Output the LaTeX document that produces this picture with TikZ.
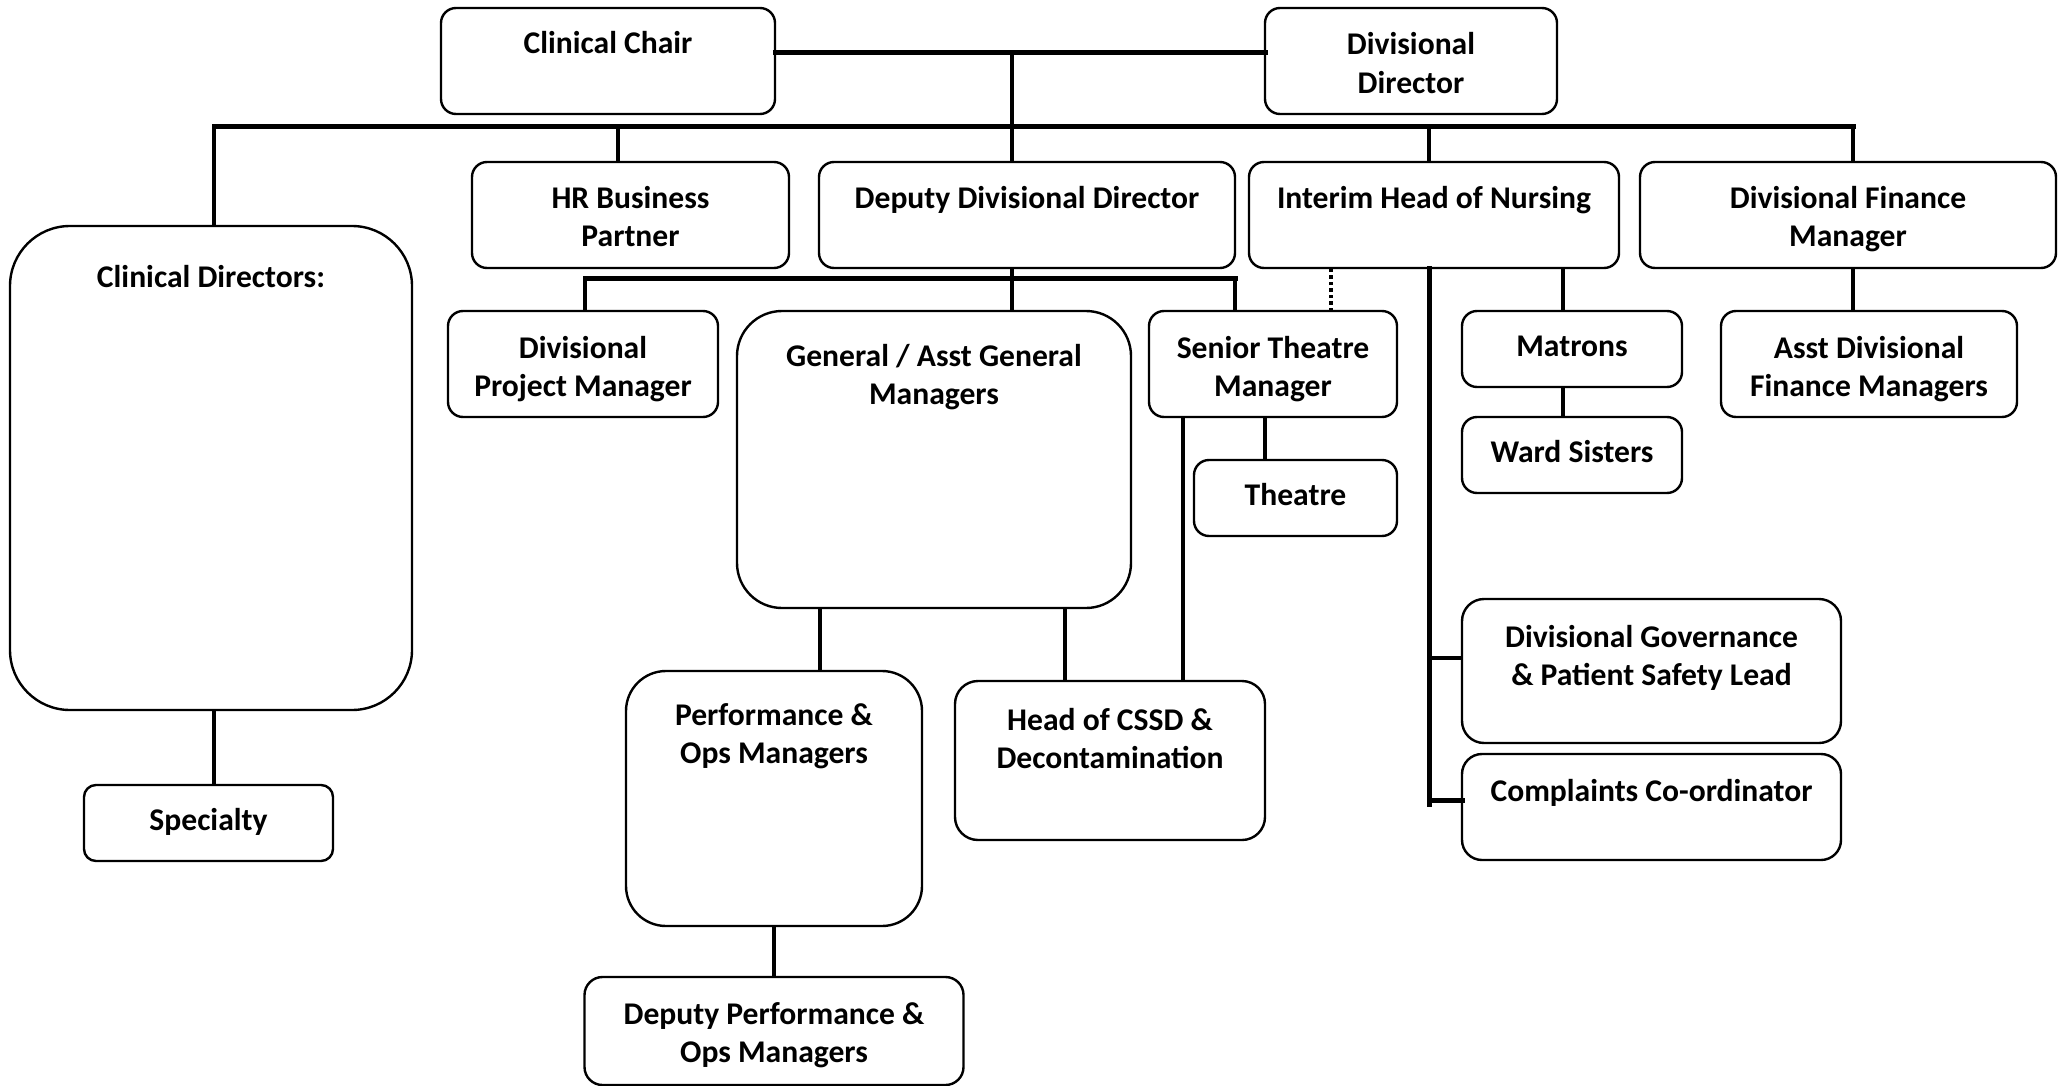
\documentclass[tikz,border=0pt]{standalone}
\usepackage{fontspec}
\setmainfont{Carlito}
\usetikzlibrary{positioning,calc}

\tikzset{
  unit/.style={draw, line width=2.4pt, rounded corners=15pt, inner sep=0pt, outer sep=0pt},
  txt/.style={align=center, inner sep=0pt, font=\bfseries\fontsize{31.6pt}{38.6pt}\selectfont},
  link/.style={line width=3.2pt},
  bus/.style={line width=5pt, line cap=rect},
  dotlink/.style={line width=3.4pt, dash pattern=on 3.5pt off 3pt}
}

\begin{document}
\begin{tikzpicture}[x=1pt, y=1pt]
  \useasboundingbox (0,0) rectangle (2066,-1086);

  % boxes
  \node[unit, minimum width=334pt, minimum height=106pt] (cc) at (608,-61) {};
  \node[unit, minimum width=292pt, minimum height=106pt] (dd) at (1411,-61) {};
  \node[unit, rounded corners=60pt, minimum width=402pt, minimum height=484pt] (cd) at (211,-468) {};
  \node[unit, rounded corners=12pt, minimum width=249pt, minimum height=76pt] (spec) at (208.5,-823) {};
  \node[unit, minimum width=317pt, minimum height=106pt] (hr) at (630.5,-215) {};
  \node[unit, minimum width=416pt, minimum height=106pt] (ddd) at (1027,-215) {};
  \node[unit, minimum width=370pt, minimum height=106pt] (ihn) at (1434,-215) {};
  \node[unit, minimum width=416pt, minimum height=106pt] (dfm) at (1848,-215) {};
  \node[unit, minimum width=270pt, minimum height=106pt] (dpm) at (583,-364) {};
  \node[unit, rounded corners=45pt, minimum width=394pt, minimum height=297pt] (gm) at (934,-459.5) {};
  \node[unit, minimum width=248pt, minimum height=106pt] (stm) at (1273,-364) {};
  \node[unit, minimum width=203pt, minimum height=76pt] (th) at (1295.5,-498) {};
  \node[unit, minimum width=220pt, minimum height=76pt] (mat) at (1572,-349) {};
  \node[unit, minimum width=220pt, minimum height=76pt, below=30pt of mat] (ws) {};
  \node[unit, minimum width=296pt, minimum height=106pt] (adfm) at (1869,-364) {};
  \node[unit, rounded corners=40pt, minimum width=296pt, minimum height=255pt] (pom) at (774,-798.5) {};
  \node[unit, rounded corners=18pt, minimum width=379pt, minimum height=108pt, below=51pt of pom] (dpom) {};
  \node[unit, rounded corners=23pt, minimum width=310pt, minimum height=159pt] (cssd) at (1110,-760.5) {};
  \node[unit, rounded corners=22pt, minimum width=379pt, minimum height=144pt] (dg) at (1651.5,-671) {};
  \node[unit, rounded corners=20pt, minimum width=379pt, minimum height=106pt, below=11pt of dg] (comp) {};

  % texts (base = last line)
  \node[txt, anchor=base] (cc-t) at ($(cc.north)+(0,-46)$) {Clinical Chair};
  \node[txt, anchor=base] (dd-t) at ($(dd.north)+(0,-85.6)$) {Divisional\\Director};
  \node[txt, anchor=base] (cd-t) at ($(cd.north)+(0,-61)$) {Clinical Directors:};
  \node[txt, anchor=base] (spec-t) at ($(spec.north)+(0,-45)$) {Specialty};
  \node[txt, anchor=base] (hr-t) at ($(hr.north)+(0,-84.6)$) {HR Business\\Partner};
  \node[txt, anchor=base] (ddd-t) at ($(ddd.north)+(0,-46)$) {Deputy Divisional Director};
  \node[txt, anchor=base] (ihn-t) at ($(ihn.north)+(0,-46)$) {Interim Head of Nursing};
  \node[txt, anchor=base] (dfm-t) at ($(dfm.north)+(0,-84.6)$) {Divisional Finance\\Manager};
  \node[txt, anchor=base] (dpm-t) at ($(dpm.north)+(0,-85.6)$) {Divisional\\Project Manager};
  \node[txt, anchor=base] (gm-t) at ($(gm.north)+(0,-93.6)$) {General / Asst General\\Managers};
  \node[txt, anchor=base] (stm-t) at ($(stm.north)+(0,-85.6)$) {Senior Theatre\\Manager};
  \node[txt, anchor=base] (th-t) at ($(th.north)+(0,-45)$) {Theatre};
  \node[txt, anchor=base] (mat-t) at ($(mat.north)+(0,-45)$) {Matrons};
  \node[txt, anchor=base] (ws-t) at ($(ws.north)+(0,-45)$) {Ward Sisters};
  \node[txt, anchor=base] (adfm-t) at ($(adfm.north)+(0,-85.6)$) {Asst Divisional\\Finance Managers};
  \node[txt, anchor=base] (pom-t) at ($(pom.north)+(0,-92.6)$) {Performance \&\\Ops Managers};
  \node[txt, anchor=base] (dpom-t) at ($(dpom.north)+(0,-85.6)$) {Deputy Performance \&\\Ops Managers};
  \node[txt, anchor=base] (cssd-t) at ($(cssd.north)+(0,-87.6)$) {Head of CSSD \&\\Decontamination};
  \node[txt, anchor=base] (dg-t) at ($(dg.north)+(0,-86.6)$) {Divisional Governance\\\& Patient Safety Lead};
  \node[txt, anchor=base] (comp-t) at ($(comp.north)+(0,-47)$) {Complaints Co-ordinator};

  % junctions
  \coordinate (tj) at (1012,-53);
  \coordinate (busl) at (214,-127);
  \coordinate (busr) at (1853,-127);
  \coordinate (sbl) at (585,-278);
  \coordinate (sbr) at (1235,-278);
  \coordinate (nve) at (1429,-804);

  % top level
  \draw[bus] ([yshift=8pt]cc.east) -- ([yshift=8pt]dd.west);
  \draw[link] (tj) -- (tj |- ddd.north);
  \draw[bus] (busl) -- (busr);
  \draw[link] (busl) -- (busl |- cd.north);
  \draw[link] (busl |- cd.south) -- (busl |- spec.north);
  \draw[link] ([xshift=-12.5pt]hr.north) -- ([xshift=-12.5pt]hr.north |- busl);
  \draw[link] (nve |- busl) -- (nve |- ihn.north);
  \draw[link] (busr) -- (busr |- dfm.north);
  \draw[link] (busr |- dfm.south) -- (busr |- adfm.north);

  % deputy divisional director
  \draw[link] (tj |- ddd.south) -- (tj |- gm.north);
  \draw[bus] (sbl) -- (sbr);
  \draw[link] (sbl) -- (sbl |- dpm.north);
  \draw[link] (sbr) -- (sbr |- stm.north);
  \draw[link] ([xshift=46pt]pom.north) -- ([xshift=46pt]pom.north |- gm.south);
  \draw[link] ([xshift=-45pt]cssd.north) -- ([xshift=-45pt]cssd.north |- gm.south);
  \draw[link] (pom.south) -- (dpom.north);
  \draw[link] ([xshift=-90pt]stm.south) -- ([xshift=-90pt]stm.south |- cssd.north);
  \draw[link] ([xshift=-30.5pt]th.north) -- ([xshift=-30.5pt]th.north |- stm.south);

  % nursing
  \draw[dotlink] ([xshift=58pt]stm.north) -- ([xshift=58pt]stm.north |- ihn.south);
  \draw[bus] (nve |- ihn.south) -- (nve);
  \draw[link] ([yshift=13pt]dg.west) -- ([yshift=13pt]dg.west -| nve);
  \draw[bus] ([yshift=7pt]comp.west) -- ([yshift=7pt]comp.west -| nve);
  \draw[link] ([xshift=-9pt]mat.north) -- ([xshift=-9pt]mat.north |- ihn.south);
  \draw[link] ([xshift=-9pt]mat.south) -- ([xshift=-9pt]ws.north);
\end{tikzpicture}
\end{document}
